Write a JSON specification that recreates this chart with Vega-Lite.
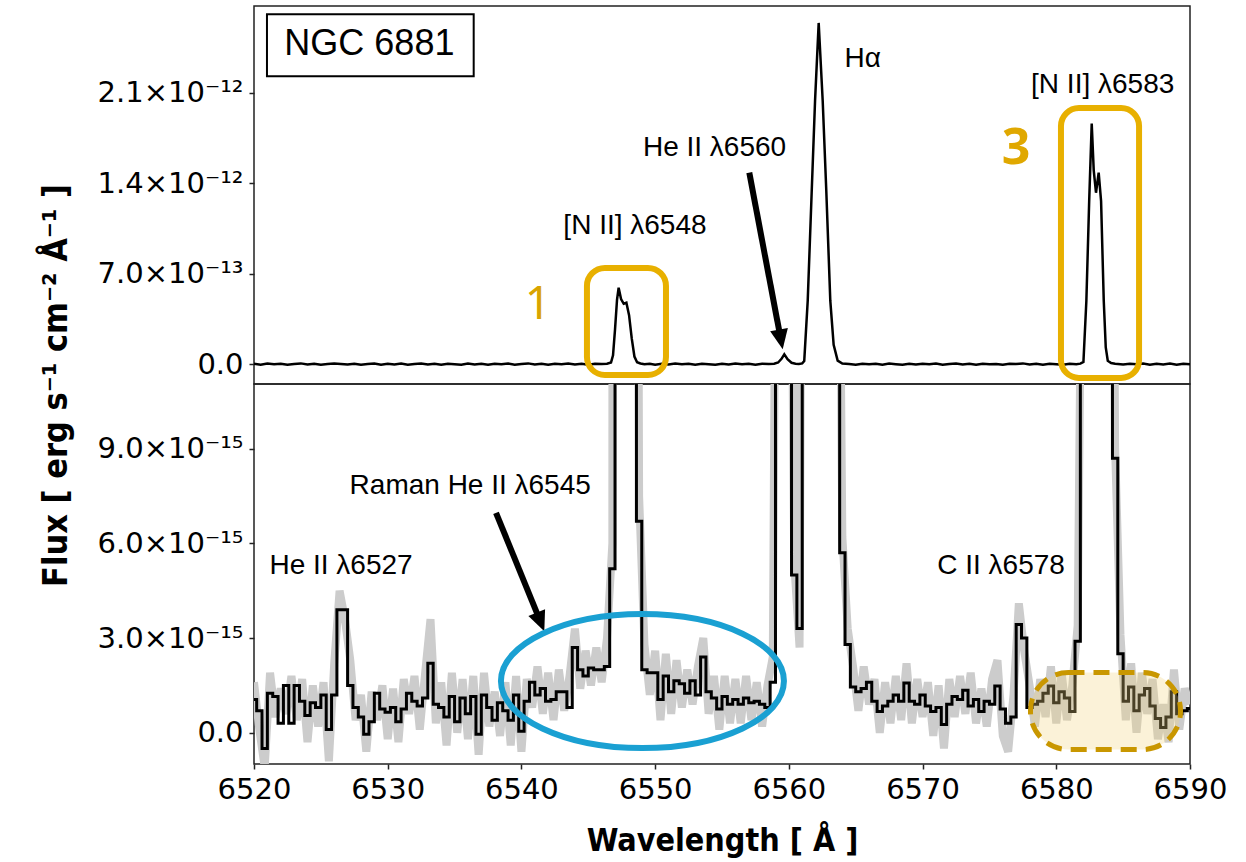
{
  "$schema": "https://vega.github.io/schema/vega-lite/v6.json",
  "background": "white",
  "padding": {"left": 38, "top": 5, "right": 10, "bottom": 5},
  "spacing": 0,
  "bounds": "flush",
  "config": {
    "view": {"stroke": "#222", "strokeWidth": 1.5},
    "axis": {"domain": false, "grid": false, "tickColor": "#222", "tickWidth": 1.5, "tickSize": 5, "labelColor": "black", "titleColor": "black", "labelFont": "DejaVu Sans", "labelFontSize": 29, "labelPadding": 6}
  },
  "datasets": {
    "top": [
      {"w":6520.0,"f":4},{"w":6520.5,"f":-3},{"w":6521.0,"f":6},{"w":6521.5,"f":0},{"w":6522.0,"f":5},{"w":6522.5,"f":-4},{"w":6523.0,"f":3},{"w":6523.5,"f":7},{"w":6524.0,"f":-2},{"w":6524.5,"f":5},{"w":6525.0,"f":-3},{"w":6525.5,"f":2},{"w":6526.0,"f":6},{"w":6526.5,"f":3},{"w":6527.0,"f":-2},{"w":6527.5,"f":5},{"w":6528.0,"f":-4},{"w":6528.5,"f":3},{"w":6529.0,"f":6},{"w":6529.5,"f":-3},{"w":6530.0,"f":4},{"w":6530.5,"f":-1},{"w":6531.0,"f":6},{"w":6531.5,"f":-4},{"w":6532.0,"f":3},{"w":6532.5,"f":6},{"w":6533.0,"f":-2},{"w":6533.5,"f":4},{"w":6534.0,"f":-4},{"w":6534.5,"f":5},{"w":6535.0,"f":1},{"w":6535.5,"f":-3},{"w":6536.0,"f":6},{"w":6536.5,"f":-2},{"w":6537.0,"f":4},{"w":6537.5,"f":-4},{"w":6538.0,"f":5},{"w":6538.5,"f":0},{"w":6539.0,"f":6},{"w":6539.5,"f":-3},{"w":6540.0,"f":3},{"w":6540.5,"f":7},{"w":6541.0,"f":-2},{"w":6541.5,"f":4},{"w":6542.0,"f":-3},{"w":6542.5,"f":5},{"w":6543.0,"f":0},{"w":6543.5,"f":6},{"w":6544.0,"f":-2},{"w":6544.5,"f":5},{"w":6545.0,"f":-3},{"w":6545.5,"f":4},{"w":6546.0,"f":2},{"w":6546.4,"f":5},{"w":6546.7,"f":14},{"w":6546.85,"f":70},{"w":6547.0,"f":270},{"w":6547.15,"f":500},{"w":6547.27,"f":592},{"w":6547.45,"f":505},{"w":6547.65,"f":468},{"w":6547.85,"f":476},{"w":6548.05,"f":380},{"w":6548.25,"f":200},{"w":6548.45,"f":60},{"w":6548.65,"f":16},{"w":6548.9,"f":6},{"w":6549.2,"f":0},{"w":6549.6,"f":5},{"w":6550.0,"f":-3},{"w":6550.5,"f":4},{"w":6551.0,"f":-2},{"w":6551.5,"f":6},{"w":6552.0,"f":0},{"w":6552.5,"f":5},{"w":6553.0,"f":-3},{"w":6553.5,"f":5},{"w":6554.0,"f":1},{"w":6554.5,"f":-4},{"w":6555.0,"f":4},{"w":6555.5,"f":-2},{"w":6556.0,"f":6},{"w":6556.5,"f":0},{"w":6557.0,"f":4},{"w":6557.5,"f":-3},{"w":6558.0,"f":5},{"w":6558.5,"f":2},{"w":6558.9,"f":4},{"w":6559.2,"f":14},{"w":6559.45,"f":42},{"w":6559.66,"f":77},{"w":6559.9,"f":40},{"w":6560.2,"f":12},{"w":6560.5,"f":5},{"w":6560.75,"f":3},{"w":6561.0,"f":7},{"w":6561.15,"f":25},{"w":6561.41,"f":490},{"w":6561.71,"f":1340},{"w":6561.96,"f":2040},{"w":6562.23,"f":2640},{"w":6562.53,"f":2040},{"w":6562.8,"f":1340},{"w":6563.1,"f":490},{"w":6563.35,"f":150},{"w":6563.65,"f":28},{"w":6564.0,"f":6},{"w":6564.5,"f":2},{"w":6565.0,"f":-3},{"w":6565.5,"f":5},{"w":6566.0,"f":0},{"w":6566.5,"f":4},{"w":6567.0,"f":-3},{"w":6567.5,"f":6},{"w":6568.0,"f":1},{"w":6568.5,"f":-4},{"w":6569.0,"f":4},{"w":6569.5,"f":-2},{"w":6570.0,"f":5},{"w":6570.5,"f":0},{"w":6571.0,"f":6},{"w":6571.5,"f":-3},{"w":6572.0,"f":3},{"w":6572.5,"f":6},{"w":6573.0,"f":-2},{"w":6573.5,"f":4},{"w":6574.0,"f":-4},{"w":6574.5,"f":5},{"w":6575.0,"f":0},{"w":6575.5,"f":3},{"w":6576.0,"f":-3},{"w":6576.5,"f":5},{"w":6577.0,"f":2},{"w":6577.5,"f":7},{"w":6578.0,"f":-2},{"w":6578.5,"f":4},{"w":6579.0,"f":-3},{"w":6579.5,"f":5},{"w":6580.0,"f":1},{"w":6580.5,"f":-3},{"w":6581.0,"f":5},{"w":6581.5,"f":0},{"w":6581.8,"f":5},{"w":6582.03,"f":18},{"w":6582.25,"f":491},{"w":6582.46,"f":1262},{"w":6582.65,"f":1861},{"w":6582.8,"f":1500},{"w":6582.97,"f":1327},{"w":6583.17,"f":1482},{"w":6583.35,"f":1262},{"w":6583.55,"f":491},{"w":6583.7,"f":130},{"w":6583.85,"f":28},{"w":6584.1,"f":10},{"w":6584.4,"f":5},{"w":6585.0,"f":-2},{"w":6585.5,"f":5},{"w":6586.0,"f":0},{"w":6586.5,"f":6},{"w":6587.0,"f":-3},{"w":6587.5,"f":4},{"w":6588.0,"f":-1},{"w":6588.5,"f":6},{"w":6589.0,"f":-3},{"w":6589.5,"f":4},{"w":6590.0,"f":0}
    ],
    "bottom": [
      {"w":6520.0,"f":1.05,"g":1.6},{"w":6520.4,"f":0.7,"g":0.1},{"w":6520.8,"f":-0.5,"g":-1.1},{"w":6521.2,"f":1.25,"g":1.9},{"w":6521.6,"f":1.15,"g":0.5},{"w":6522.0,"f":0.3,"g":1.4},{"w":6522.4,"f":1.5,"g":0.6},{"w":6522.8,"f":0.3,"g":1.8},{"w":6523.2,"f":1.5,"g":0.4},{"w":6523.6,"f":1.0,"g":1.7},{"w":6524.0,"f":0.55,"g":-0.3},{"w":6524.4,"f":0.95,"g":1.5},{"w":6524.8,"f":0.8,"g":0.2},{"w":6525.2,"f":1.2,"g":1.6},{"w":6525.6,"f":0.1,"g":-0.9},{"w":6526.0,"f":1.2,"g":2.2},{"w":6526.4,"f":3.9,"g":4.5},{"w":6526.8,"f":3.9,"g":3.6},{"w":6527.2,"f":1.5,"g":2.3},{"w":6527.6,"f":0.8,"g":0.4},{"w":6528.0,"f":0.5,"g":1.2},{"w":6528.4,"f":-0.05,"g":-0.6},{"w":6528.8,"f":0.35,"g":1.3},{"w":6529.2,"f":1.25,"g":0.4},{"w":6529.6,"f":0.75,"g":1.5},{"w":6530.0,"f":0.65,"g":-0.2},{"w":6530.4,"f":0.8,"g":1.4},{"w":6530.8,"f":0.35,"g":-0.3},{"w":6531.2,"f":0.75,"g":1.7},{"w":6531.6,"f":1.25,"g":0.6},{"w":6532.0,"f":1.0,"g":1.8},{"w":6532.4,"f":0.85,"g":0.1},{"w":6532.8,"f":1.1,"g":1.9},{"w":6533.2,"f":2.2,"g":3.6},{"w":6533.6,"f":0.9,"g":0.3},{"w":6534.0,"f":0.8,"g":1.6},{"w":6534.4,"f":0.5,"g":-0.4},{"w":6534.8,"f":1.15,"g":1.9},{"w":6535.2,"f":0.35,"g":0.0},{"w":6535.6,"f":1.1,"g":1.7},{"w":6536.0,"f":0.6,"g":-0.2},{"w":6536.4,"f":1.15,"g":1.8},{"w":6536.8,"f":-0.05,"g":-0.7},{"w":6537.2,"f":1.2,"g":1.9},{"w":6537.6,"f":0.8,"g":0.2},{"w":6538.0,"f":0.4,"g":1.3},{"w":6538.4,"f":0.95,"g":-0.1},{"w":6538.8,"f":0.7,"g":1.6},{"w":6539.2,"f":0.4,"g":-0.4},{"w":6539.6,"f":1.2,"g":1.8},{"w":6540.0,"f":0.05,"g":-0.6},{"w":6540.4,"f":1.0,"g":1.7},{"w":6540.8,"f":1.6,"g":0.8},{"w":6541.2,"f":1.2,"g":2.1},{"w":6541.6,"f":1.4,"g":0.6},{"w":6542.0,"f":1.0,"g":1.9},{"w":6542.4,"f":1.05,"g":0.4},{"w":6542.8,"f":1.3,"g":2.0},{"w":6543.2,"f":1.3,"g":0.7},{"w":6543.6,"f":0.8,"g":1.8},{"w":6544.0,"f":2.7,"g":3.3},{"w":6544.4,"f":2.0,"g":1.4},{"w":6544.8,"f":1.8,"g":2.6},{"w":6545.2,"f":2.05,"g":1.5},{"w":6545.6,"f":2.0,"g":2.7},{"w":6546.0,"f":2.0,"g":1.6},{"w":6546.4,"f":2.1,"g":3.0},{"w":6546.8,"f":5.2,"g":6.0},{"w":6547.2,"f":560,"g":560},{"w":6547.6,"f":480,"g":480},{"w":6548.0,"f":400,"g":400},{"w":6548.4,"f":60,"g":62},{"w":6548.8,"f":6.7,"g":7.5},{"w":6549.2,"f":2.0,"g":2.8},{"w":6549.6,"f":1.9,"g":1.2},{"w":6550.0,"f":1.9,"g":2.6},{"w":6550.4,"f":1.05,"g":0.4},{"w":6550.8,"f":1.8,"g":2.5},{"w":6551.2,"f":1.3,"g":0.6},{"w":6551.6,"f":1.65,"g":2.3},{"w":6552.0,"f":1.55,"g":0.8},{"w":6552.4,"f":1.25,"g":2.0},{"w":6552.8,"f":1.65,"g":0.9},{"w":6553.2,"f":1.2,"g":2.1},{"w":6553.6,"f":2.4,"g":3.0},{"w":6554.0,"f":1.3,"g":0.6},{"w":6554.4,"f":1.1,"g":1.8},{"w":6554.8,"f":0.75,"g":0.1},{"w":6555.2,"f":1.15,"g":1.8},{"w":6555.6,"f":0.9,"g":0.3},{"w":6556.0,"f":1.05,"g":1.7},{"w":6556.4,"f":0.9,"g":0.3},{"w":6556.8,"f":1.1,"g":1.8},{"w":6557.2,"f":0.95,"g":0.4},{"w":6557.6,"f":1.0,"g":1.6},{"w":6558.0,"f":0.9,"g":0.2},{"w":6558.4,"f":0.8,"g":1.5},{"w":6558.8,"f":1.6,"g":2.4},{"w":6559.2,"f":30,"g":30},{"w":6559.6,"f":60,"g":60},{"w":6560.0,"f":25,"g":26},{"w":6560.4,"f":5.0,"g":5.4},{"w":6560.8,"f":3.3,"g":2.7},{"w":6561.2,"f":40,"g":41},{"w":6561.6,"f":800,"g":800},{"w":6562.0,"f":2300,"g":2300},{"w":6562.4,"f":2200,"g":2200},{"w":6562.8,"f":1300,"g":1300},{"w":6563.2,"f":350,"g":350},{"w":6563.6,"f":25,"g":26},{"w":6564.0,"f":5.7,"g":6.2},{"w":6564.4,"f":2.8,"g":3.3},{"w":6564.8,"f":1.45,"g":2.1},{"w":6565.2,"f":1.3,"g":0.7},{"w":6565.6,"f":1.4,"g":2.1},{"w":6566.0,"f":1.6,"g":0.9},{"w":6566.4,"f":1.0,"g":1.7},{"w":6566.8,"f":0.67,"g":0.0},{"w":6567.2,"f":0.85,"g":1.6},{"w":6567.6,"f":1.0,"g":0.3},{"w":6568.0,"f":1.2,"g":1.8},{"w":6568.4,"f":1.0,"g":0.4},{"w":6568.8,"f":1.58,"g":2.2},{"w":6569.2,"f":1.0,"g":0.3},{"w":6569.6,"f":0.9,"g":1.7},{"w":6570.0,"f":1.2,"g":0.5},{"w":6570.4,"f":0.85,"g":1.6},{"w":6570.8,"f":0.67,"g":-0.1},{"w":6571.2,"f":0.8,"g":1.5},{"w":6571.6,"f":0.26,"g":-0.5},{"w":6572.0,"f":0.9,"g":1.7},{"w":6572.4,"f":1.15,"g":0.5},{"w":6572.8,"f":1.05,"g":1.8},{"w":6573.2,"f":1.35,"g":0.6},{"w":6573.6,"f":0.85,"g":1.9},{"w":6574.0,"f":1.05,"g":0.3},{"w":6574.4,"f":0.67,"g":1.4},{"w":6574.8,"f":1.0,"g":0.2},{"w":6575.2,"f":0.9,"g":1.7},{"w":6575.6,"f":1.48,"g":2.3},{"w":6576.0,"f":0.75,"g":-0.1},{"w":6576.4,"f":0.3,"g":-0.6},{"w":6576.8,"f":0.5,"g":1.2},{"w":6577.2,"f":3.43,"g":4.1},{"w":6577.6,"f":3.0,"g":2.6},{"w":6578.0,"f":0.8,"g":1.5},{"w":6578.4,"f":0.9,"g":0.2},{"w":6578.8,"f":1.0,"g":1.7},{"w":6579.2,"f":1.25,"g":0.5},{"w":6579.6,"f":1.48,"g":2.1},{"w":6580.0,"f":0.95,"g":0.3},{"w":6580.4,"f":1.3,"g":1.9},{"w":6580.8,"f":1.1,"g":0.4},{"w":6581.2,"f":0.67,"g":1.5},{"w":6581.6,"f":2.9,"g":3.4},{"w":6582.0,"f":20,"g":21},{"w":6582.4,"f":1200,"g":1200},{"w":6582.8,"f":1500,"g":1500},{"w":6583.2,"f":1480,"g":1480},{"w":6583.6,"f":400,"g":400},{"w":6584.0,"f":40,"g":41},{"w":6584.4,"f":8.7,"g":9.0},{"w":6584.8,"f":2.5,"g":3.1},{"w":6585.2,"f":1.0,"g":0.4},{"w":6585.6,"f":1.45,"g":2.2},{"w":6586.0,"f":0.7,"g":0.0},{"w":6586.4,"f":1.2,"g":1.9},{"w":6586.8,"f":1.4,"g":0.6},{"w":6587.2,"f":0.85,"g":1.7},{"w":6587.6,"f":0.45,"g":-0.2},{"w":6588.0,"f":0.17,"g":0.9},{"w":6588.4,"f":0.5,"g":-0.3},{"w":6588.8,"f":1.3,"g":2.0},{"w":6589.2,"f":0.6,"g":0.1},{"w":6589.6,"f":0.7,"g":1.4},{"w":6590.0,"f":0.77,"g":0.9}
    ]
  },
  "vconcat": [
    {
      "width": 936,
      "height": 378,
      "encoding": {
        "x": {"field": "w", "type": "quantitative", "scale": {"domain": [6520, 6590], "nice": false, "zero": false}, "axis": null},
        "y": {"field": "f", "type": "quantitative", "scale": {"domain": [-152.4, 2771], "nice": false, "zero": false},
          "axis": {"values": [0, 700, 1400, 2100],
            "labelExpr": "datum.value == 0 ? '0.0' : datum.value < 1000 ? format(datum.value / 100, '.1f') + '×10⁻¹³' : format(datum.value / 1000, '.1f') + '×10⁻¹²'",
            "title": "Flux [ erg s⁻¹ cm⁻² Å⁻¹ ]", "titleFont": "DejaVu Sans Condensed, Liberation Sans Narrow, DejaVu Sans", "titleFontSize": 34, "titleFontWeight": "bold",
            "titleAngle": 270, "titleX": -188, "titleY": 379, "titleAlign": "center", "titleBaseline": "alphabetic"}}
      },
      "layer": [
        {"data": {"name": "top"}, "mark": {"type": "line", "color": "black", "strokeWidth": 2.5, "clip": true}},
        {"data": {"values": [
          {"w": 6548.49, "f": 1008, "label": "[N II] λ6548"},
          {"w": 6554.44, "f": 1611, "label": "He II λ6560"},
          {"w": 6565.52, "f": 2302, "label": "Hα"},
          {"w": 6583.47, "f": 2101, "label": "[N II] λ6583"}]},
          "mark": {"type": "text", "font": "Liberation Sans", "fontSize": 28, "align": "center", "baseline": "alphabetic", "color": "black"},
          "encoding": {"text": {"field": "label"}}},
        {"data": {"values": [{"w": 6520.97, "f": 2707, "w2": 6536.43, "f2": 2228}]},
          "mark": {"type": "rect", "fill": "white", "stroke": "black", "strokeWidth": 2},
          "encoding": {"x2": {"field": "w2"}, "y2": {"field": "f2"}}},
        {"data": {"values": [{"w": 6528.63, "f": 2392, "label": "NGC 6881"}]},
          "mark": {"type": "text", "font": "Liberation Sans", "fontSize": 36, "align": "center", "baseline": "alphabetic", "color": "black"},
          "encoding": {"text": {"field": "label"}}},
        {"data": {"values": [{"w": 6557.04, "f": 1482, "w2": 6559.29, "f2": 253}]},
          "mark": {"type": "rule", "color": "black", "strokeWidth": 6},
          "encoding": {"x2": {"field": "w2"}, "y2": {"field": "f2"}}},
        {"data": {"values": [{"w": 6559.54, "f": 116}]},
          "mark": {"type": "point", "shape": "M 0 0 L -0.9 -2 L 0.9 -2 Z", "size": 400, "filled": true, "color": "black", "opacity": 1, "angle": -10.7}},
        {"data": {"values": [{"w": 6544.90, "f": 745, "w2": 6550.81, "f2": -83}, {"w": 6580.35, "f": 1982, "w2": 6586.19, "f2": -106}]},
          "mark": {"type": "rect", "fill": "white", "fillOpacity": 0, "stroke": "#E8B000", "strokeWidth": 6, "cornerRadius": 18},
          "encoding": {"x2": {"field": "w2"}, "y2": {"field": "f2"}}},
        {"data": {"values": [{"w": 6541.24, "f": 350, "label": "1"}]},
          "mark": {"type": "text", "font": "Noto Sans", "fontSize": 46, "align": "center", "baseline": "alphabetic", "color": "#D9A400"},
          "encoding": {"text": {"field": "label"}}},
        {"data": {"values": [{"w": 6576.99, "f": 1549, "label": "3"}]},
          "mark": {"type": "text", "font": "Noto Sans", "fontWeight": "bold", "fontSize": 50, "align": "center", "baseline": "alphabetic", "color": "#E0A800"},
          "encoding": {"text": {"field": "label"}}}
      ]
    },
    {
      "width": 936,
      "height": 380,
      "encoding": {
        "x": {"field": "w", "type": "quantitative", "scale": {"domain": [6520, 6590], "nice": false, "zero": false},
          "axis": {"values": [6520, 6530, 6540, 6550, 6560, 6570, 6580, 6590], "format": "d", "labelFlush": false, "labelOverlap": false,
            "title": "Wavelength [ Å ]", "titleFont": "DejaVu Sans Condensed, Liberation Sans Narrow, DejaVu Sans", "titleFontSize": 32, "titleFontWeight": "bold", "titlePadding": 21}},
        "y": {"field": "f", "type": "quantitative", "scale": {"domain": [-0.99, 11.05], "nice": false, "zero": false},
          "axis": {"values": [0, 3, 6, 9], "labelExpr": "datum.value == 0 ? '0.0' : format(datum.value, '.1f') + '×10⁻¹⁵'", "title": null}}
      },
      "layer": [
        {"data": {"name": "bottom"}, "mark": {"type": "line", "color": "#CCCCCC", "strokeWidth": 8, "clip": true},
          "encoding": {"y": {"field": "g", "type": "quantitative", "scale": {"domain": [-0.99, 11.05], "nice": false, "zero": false},
            "axis": {"values": [0, 3, 6, 9], "labelExpr": "datum.value == 0 ? '0.0' : format(datum.value, '.1f') + '×10⁻¹⁵'", "title": null}}}},
        {"data": {"values": [{}]}, "mark": {"type": "rule", "color": "#999999", "strokeWidth": 2, "strokeDash": [9, 5]},
          "encoding": {"x": {"datum": 6520}, "x2": {"datum": 6590}, "y": {"datum": 0}}},
        {"data": {"name": "bottom"}, "mark": {"type": "line", "color": "black", "strokeWidth": 3, "interpolate": "step", "clip": true}},
        {"data": {"values": [
          {"w": 6536.17, "f": 7.55, "label": "Raman He II λ6545"},
          {"w": 6526.51, "f": 5.04, "label": "He II λ6527"},
          {"w": 6575.87, "f": 5.04, "label": "C II λ6578"}]},
          "mark": {"type": "text", "font": "Liberation Sans", "fontSize": 28, "align": "center", "baseline": "alphabetic", "color": "black"},
          "encoding": {"text": {"field": "label"}}},
        {"data": {"values": [{"w": 6538.10, "f": 6.97, "w2": 6541.20, "f2": 3.75}]},
          "mark": {"type": "rule", "color": "black", "strokeWidth": 6},
          "encoding": {"x2": {"field": "w2"}, "y2": {"field": "f2"}}},
        {"data": {"values": [{"w": 6541.71, "f": 3.22}]},
          "mark": {"type": "point", "shape": "M 0 0 L -0.9 -2 L 0.9 -2 Z", "size": 400, "filled": true, "color": "black", "opacity": 1, "angle": -22.2}},
        {"data": {"values": [{"w": 6549.05, "f": 1.638}]},
          "mark": {"type": "point", "shape": "M 1 0 C 1 0.2615 0.5523 0.4735 0 0.4735 C -0.5523 0.4735 -1 0.2615 -1 0 C -1 -0.2615 -0.5523 -0.4735 0 -0.4735 C 0.5523 -0.4735 1 -0.2615 1 0 Z", "size": 80089, "filled": false, "stroke": "#1AA0D2", "strokeWidth": 6, "opacity": 1}},
        {"data": {"values": [{"w": 6578.07, "f": 1.907, "w2": 6589.29, "f2": -0.532}]},
          "mark": {"type": "rect", "fill": "#F3D47E", "fillOpacity": 0.3, "stroke": "#C99700", "strokeWidth": 5, "strokeDash": [16, 9], "cornerRadius": 38},
          "encoding": {"x2": {"field": "w2"}, "y2": {"field": "f2"}}}
      ]
    }
  ]
}
